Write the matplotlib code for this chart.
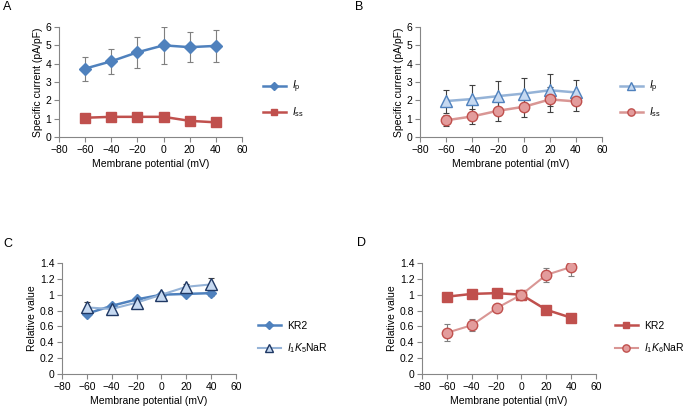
import matplotlib

matplotlib.use("Agg")
import matplotlib.pyplot as plt
from matplotlib.ticker import FuncFormatter

plt.rcParams["font.family"] = ["Liberation Sans", "DejaVu Sans"]
plt.rcParams["mathtext.fontset"] = "custom"
plt.rcParams["mathtext.rm"] = "Liberation Sans"
plt.rcParams["mathtext.it"] = "Liberation Sans:italic"
plt.rcParams["font.size"] = 7.5

# membrane potential (mV)
voltage = [-60, -40, -20, 0, 20, 40]

# panel A: KR2 specific current (pA/pF)
a_ip = [3.73, 4.13, 4.62, 5.0, 4.9, 4.97]
a_ip_err = [0.65, 0.68, 0.83, 1.0, 0.83, 0.86]
a_iss = [1.05, 1.1, 1.1, 1.1, 0.88, 0.8]
a_iss_err = [0.05, 0.05, 0.05, 0.05, 0.05, 0.05]

# panel B: I1K6NaR specific current (pA/pF)
b_ip = [1.96, 2.07, 2.23, 2.37, 2.55, 2.43]
b_ip_err = [0.63, 0.76, 0.81, 0.83, 0.87, 0.67]
b_iss = [0.91, 1.12, 1.43, 1.65, 2.05, 1.94]
b_iss_err = [0.31, 0.41, 0.54, 0.56, 0.67, 0.51]

# panel C: relative Ip
c_kr2 = [0.76, 0.86, 0.94, 1.0, 1.01, 1.02]
c_kr2_err = [0.02, 0.02, 0.02, 0.0, 0.02, 0.03]
c_nar = [0.84, 0.82, 0.9, 1.0, 1.1, 1.13]
c_nar_err = [0.07, 0.03, 0.03, 0.0, 0.03, 0.08]

# panel D: relative Iss
d_kr2 = [0.975, 1.01, 1.02, 1.0, 0.81, 0.71]
d_kr2_err = [0.04, 0.02, 0.02, 0.0, 0.02, 0.02]
d_nar = [0.52, 0.615, 0.83, 1.0, 1.25, 1.35]
d_nar_err = [0.105, 0.075, 0.02, 0.0, 0.085, 0.11]

BLUE = "#4F81BD"
RED = "#C0504D"
LBLUE = "#95B3D7"
LRED = "#D99694"
SPINE = "#868686"

W, H = 684, 408
fig = plt.figure(figsize=(W / 100, H / 100), dpi=100)


def px_axes(left, top, right, bottom):
    return fig.add_axes([left / W, 1 - bottom / H, (right - left) / W, (bottom - top) / H])


def style(ax, ylim, yticks, ylabel):
    ax.set_xlim(-80, 60)
    ax.set_xticks(range(-80, 61, 20))
    ax.set_ylim(*ylim)
    ax.set_yticks(yticks)
    ax.yaxis.set_major_formatter(FuncFormatter(lambda v, p: f"{v:g}"))
    for s in ("top", "right"):
        ax.spines[s].set_visible(False)
    for s in ("left", "bottom"):
        ax.spines[s].set_color(SPINE)
        ax.spines[s].set_linewidth(0.8)
    ax.tick_params(direction="out", length=3.5, width=0.8, color=SPINE, pad=2)
    ax.set_xlabel("Membrane potential (mV)", labelpad=3)
    ax.set_ylabel(ylabel, labelpad=2)
    ax.patch.set_alpha(0)


def series(ax, y, err, color, marker, ms, mfc, mec, ecolor, label, lw=1.8):
    ax.errorbar(voltage, y, yerr=err, fmt="none", ecolor=ecolor, elinewidth=0.8,
                capsize=2.5, capthick=0.8, zorder=2)
    ax.plot(voltage, y, color=color, lw=lw, marker=marker, ms=ms,
            mfc=mfc, mec=mec, mew=1.0, label=label, zorder=3)


def legend(ax, x, y):
    ax.legend(loc="center left", bbox_to_anchor=(x / W, 1 - y / H),
              bbox_transform=fig.transFigure, frameon=False, borderpad=0,
              borderaxespad=0, handlelength=2.2, handletextpad=0.6,
              labelspacing=1.0, fontsize=7.5, markerscale=0.7)


ip_label = r"$\mathit{I}_{\mathrm{p}}$"
iss_label = r"$\mathit{I}_{\mathrm{ss}}$"

# A
ax = px_axes(59, 27, 242, 137)
series(ax, a_ip, a_ip_err, BLUE, "D", 6.5, BLUE, BLUE, "#7F7F7F", ip_label)
series(ax, a_iss, a_iss_err, RED, "s", 7, RED, RED, "#7F7F7F", iss_label)
style(ax, (0, 6), range(0, 7), "Specific current (pA/pF)")
legend(ax, 263, 99)

# B
ax = px_axes(420, 27, 602, 137)
series(ax, b_ip, b_ip_err, LBLUE, "^", 8, "#C6D9F1", BLUE, "#404040", ip_label)
series(ax, b_iss, b_iss_err, LRED, "o", 7.5, "#E39C9C", RED, "#404040", iss_label)
style(ax, (0, 6), range(0, 7), "Specific current (pA/pF)")
legend(ax, 620, 99)

# C
ax = px_axes(62, 263, 236, 374)
series(ax, c_kr2, c_kr2_err, BLUE, "D", 5.5, BLUE, BLUE, "#7F7F7F", "KR2")
series(ax, c_nar, c_nar_err, LBLUE, "^", 8, "#C6D9F1", "#1F3864", "#404040",
       r"$\mathit{I}_{1}\mathit{K}_{5}$NaR", lw=1.5)
style(ax, (0, 1.4), [0, 0.2, 0.4, 0.6, 0.8, 1, 1.2, 1.4], "Relative value")
legend(ax, 258, 338)

# D
ax = px_axes(422, 263, 596, 374)
series(ax, d_kr2, d_kr2_err, RED, "s", 7, RED, RED, "#7F7F7F", "KR2")
series(ax, d_nar, d_nar_err, LRED, "o", 7.5, "#E39C9C", RED, "#7F7F7F",
       r"$\mathit{I}_{1}\mathit{K}_{6}$NaR", lw=1.5)
style(ax, (0, 1.4), [0, 0.2, 0.4, 0.6, 0.8, 1, 1.2, 1.4], "Relative value")
legend(ax, 615, 338)

for lab, x, y in (("A", 3, 7), ("B", 355, 7), ("C", 3, 244), ("D", 357, 243)):
    fig.text(x / W, 1 - y / H, lab, fontsize=9, ha="left", va="center")

fig.savefig("out.png", dpi=100)
